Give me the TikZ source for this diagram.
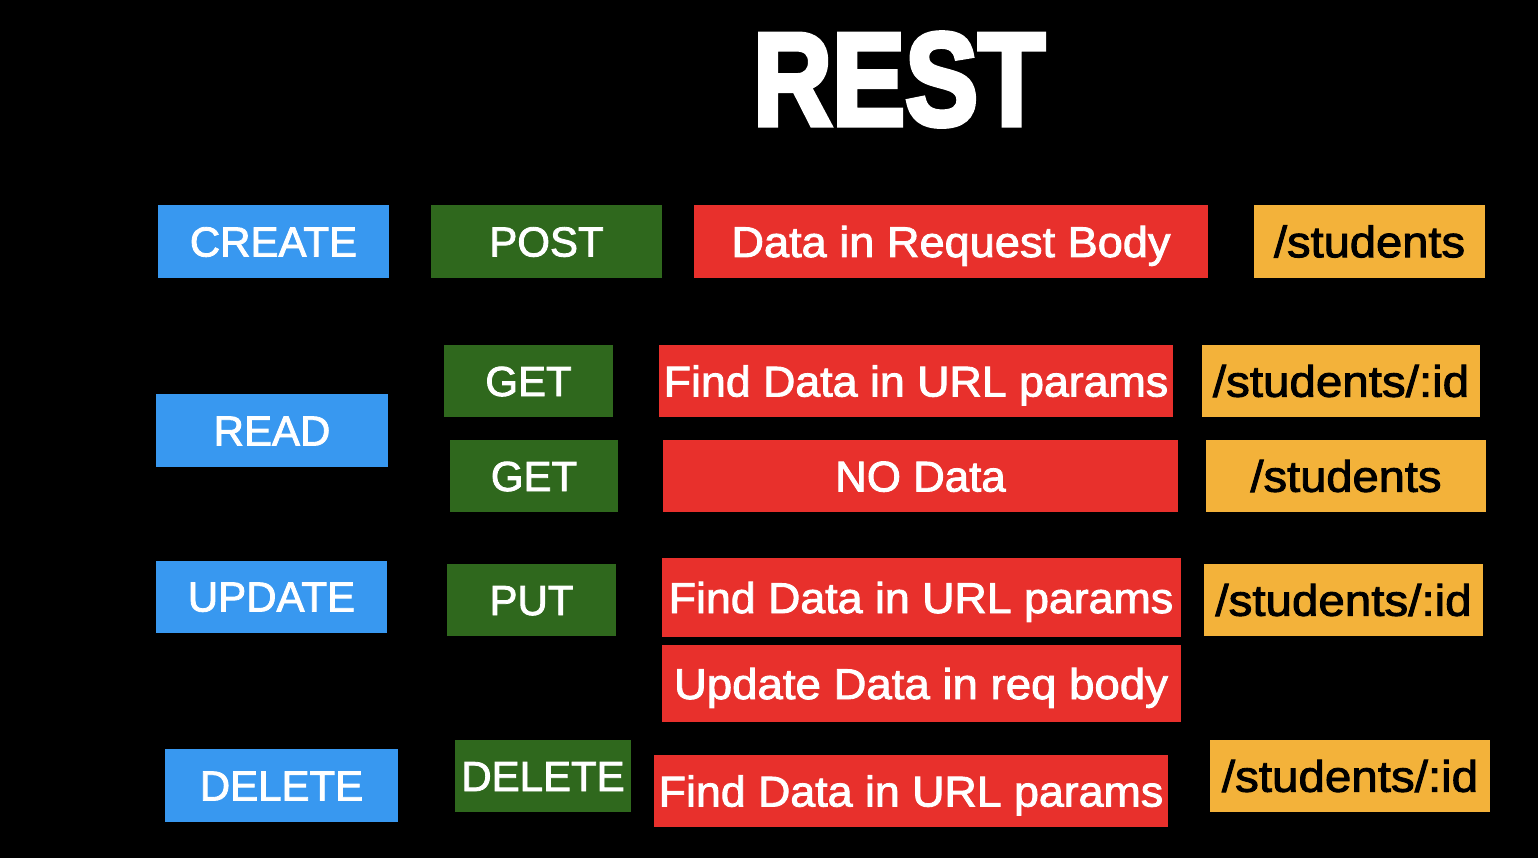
\documentclass[tikz,border=0pt]{standalone}
\usepackage{fontspec}
\usepackage{graphicx}
\setmainfont{Liberation Sans}
\newfontfamily\boxfont{Liberation Sans}[FakeBold=2]
\newfontfamily\titlefont{Liberation Sans}[BoldFeatures={FakeBold=4}]
\definecolor{cblue}{RGB}{56,152,240}
\definecolor{cgreen}{RGB}{47,104,29}
\definecolor{cred}{RGB}{232,48,44}
\definecolor{corange}{RGB}{243,178,58}
\newcommand{\xs}[2]{\scalebox{#1}[1]{#2}}
\begin{document}
\begin{tikzpicture}[x=1pt,y=-1pt,
  box/.style={rectangle, inner sep=0pt, text depth=0pt, align=center},
  bluebox/.style={box, fill=cblue, text=white, text height=30pt, font=\boxfont\fontsize{42}{48}\selectfont},
  greenbox/.style={box, fill=cgreen, text=white, text height=30pt, font=\boxfont\fontsize{42}{48}\selectfont},
  redbox/.style={box, fill=cred, text=white, text height=31pt, font=\boxfont\fontsize{43}{48}\selectfont},
  orangebox/.style={box, fill=corange, text=black, text height=31.5pt, font=\boxfont\fontsize{44}{48}\selectfont},
  sz/.style n args={2}{minimum width=#1pt, minimum height=#2pt}
]
\fill[black] (0,0) rectangle (1538,858);

\node[text=white, anchor=base, inner sep=0pt, font=\titlefont\bfseries\fontsize{132}{140}\selectfont] (title) at (899,125) {\xs{0.83}{REST}};

% CREATE row
\node[bluebox, sz={231}{73}] (create) at (273.5,241.5) {CREATE};
\node[greenbox, sz={231}{73}] (post) at (546.5,241.5) {POST};
\node[redbox, sz={514}{73}] (reqbody) at (951,241.5) {\xs{1.05}{Data in Request Body}};
\node[orangebox, sz={231}{73}] (stu1) at (1369.5,241.5) {\xs{1.07}{/students}};

% READ rows
\node[bluebox, sz={232}{73}] (read) at (272,430.5) {READ};
\node[greenbox, sz={169}{72}] (get1) at (528.5,381) {GET};
\node[redbox, sz={514}{72}] (find1) at (916,381) {\xs{1.04}{Find Data in URL params}};
\node[orangebox, sz={278}{72}] (sid1) at (1341,381) {\xs{1.08}{/students/:id}};
\node[greenbox, sz={168}{72}] (get2) at (534,476) {GET};
\node[redbox, sz={515}{72}] (nodata) at (920.5,476) {\xs{1.02}{NO Data}};
\node[orangebox, sz={280}{72}] (stu2) at (1346,476) {\xs{1.07}{/students}};

% UPDATE rows
\node[bluebox, sz={231}{72}] (update) at (271.5,596.5) {UPDATE};
\node[greenbox, sz={169}{72}] (put) at (531.5,600) {PUT};
\node[redbox, sz={519}{79}] (find2) at (921,597.5) {\xs{1.04}{Find Data in URL params}};
\node[orangebox, sz={279}{72}] (sid2) at (1343.5,600) {\xs{1.08}{/students/:id}};
\node[redbox, sz={519}{77}] (upd) at (921,683.5) {\xs{1.06}{Update Data in req body}};

% DELETE row
\node[bluebox, sz={233}{73}] (delete) at (281.5,785.5) {DELETE};
\node[greenbox, sz={176}{72}] (del) at (543,776) {DELETE};
\node[redbox, sz={514}{72}] (find3) at (911,791) {\xs{1.04}{Find Data in URL params}};
\node[orangebox, sz={280}{72}] (sid3) at (1350,776) {\xs{1.08}{/students/:id}};
\end{tikzpicture}
\end{document}
